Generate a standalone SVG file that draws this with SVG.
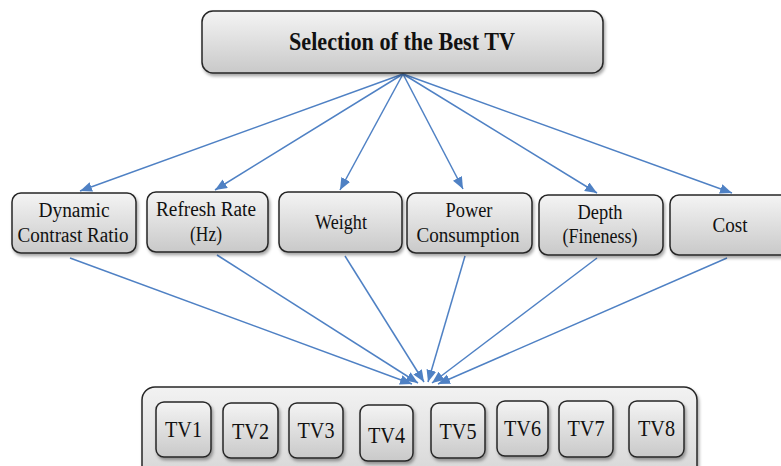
<svg xmlns="http://www.w3.org/2000/svg" width="781" height="466" viewBox="0 0 781 466">
<style>
.box{fill:url(#g);stroke:#262626;stroke-width:1.5;filter:url(#sh)}
.outer{fill:url(#g2);stroke:#262626;stroke-width:1.5;filter:url(#sh)}
.lbl text{fill:#111;text-anchor:middle}
.t{font-size:20px}
.tv{font-size:24px}
.title{font-size:26px;font-weight:bold}
.c{stroke:#4f81c4;stroke-width:1.5;fill:none;marker-end:url(#ah)}
</style>
<defs>
<linearGradient id="g" x1="0" y1="0" x2="0" y2="1">
<stop offset="0" stop-color="#f4f4f4"/>
<stop offset="1" stop-color="#c9c9c9"/>
</linearGradient>
<linearGradient id="g2" x1="0" y1="0" x2="0" y2="1">
<stop offset="0" stop-color="#f2f2f2"/>
<stop offset="1" stop-color="#d6d6d6"/>
</linearGradient>
<filter id="sh" x="-10%" y="-10%" width="130%" height="140%">
<feDropShadow dx="1.5" dy="2.5" stdDeviation="1.5" flood-color="#000" flood-opacity="0.35"/>
</filter>
<marker id="ah" markerUnits="userSpaceOnUse" markerWidth="13" markerHeight="11" refX="12" refY="5" orient="auto">
<path d="M0,0 L12,5 L0,10 z" fill="#4f81c4"/>
</marker>
</defs>
<g id="connectors">
<line class="c" x1="403" y1="74" x2="80" y2="191"/>
<line class="c" x1="403" y1="74" x2="215" y2="190"/>
<line class="c" x1="403" y1="74" x2="340" y2="190"/>
<line class="c" x1="403" y1="74" x2="463" y2="189"/>
<line class="c" x1="403" y1="74" x2="597" y2="193"/>
<line class="c" x1="403" y1="74" x2="732" y2="193"/>
<line class="c" x1="70" y1="258" x2="412" y2="384"/>
<line class="c" x1="217" y1="255" x2="418" y2="383"/>
<line class="c" x1="345" y1="256" x2="424" y2="382"/>
<line class="c" x1="465" y1="256" x2="428" y2="382"/>
<line class="c" x1="597" y1="258" x2="432" y2="383"/>
<line class="c" x1="727" y1="258" x2="438" y2="384"/>
</g>
<g class="lbl" font-family="Liberation Serif, Times New Roman, Times, Nimbus Roman, Noto Serif, DejaVu Serif, FreeSerif, serif">
<g id="goal">
<rect class="box" x="202" y="11" width="401" height="62" rx="11"/>
<text class="title" x="402" y="50" textLength="226" lengthAdjust="spacingAndGlyphs">Selection of the Best TV</text>
</g>
<g id="c1">
<rect class="box" x="12" y="193" width="124" height="60" rx="9"/>
<text class="t" x="74" y="217" textLength="71" lengthAdjust="spacingAndGlyphs">Dynamic</text>
<text class="t" x="73" y="242" textLength="111" lengthAdjust="spacingAndGlyphs">Contrast Ratio</text>
</g>
<g id="c2">
<rect class="box" x="147" y="192" width="121" height="60" rx="9"/>
<text class="t" x="206" y="216" textLength="100" lengthAdjust="spacingAndGlyphs">Refresh Rate</text>
<text class="t" x="206" y="241" textLength="32" lengthAdjust="spacingAndGlyphs">(Hz)</text>
</g>
<g id="c3">
<rect class="box" x="279" y="192" width="123" height="60" rx="9"/>
<text class="t" x="341" y="229" textLength="52" lengthAdjust="spacingAndGlyphs">Weight</text>
</g>
<g id="c4">
<rect class="box" x="407" y="193" width="125" height="60" rx="9"/>
<text class="t" x="469" y="217" textLength="47" lengthAdjust="spacingAndGlyphs">Power</text>
<text class="t" x="468" y="242" textLength="103" lengthAdjust="spacingAndGlyphs">Consumption</text>
</g>
<g id="c5">
<rect class="box" x="539" y="195" width="124" height="60" rx="9"/>
<text class="t" x="600" y="219" textLength="45" lengthAdjust="spacingAndGlyphs">Depth</text>
<text class="t" x="600" y="243" textLength="75" lengthAdjust="spacingAndGlyphs">(Fineness)</text>
</g>
<g id="c6">
<rect class="box" x="670" y="195" width="122" height="60" rx="9"/>
<text class="t" x="730" y="232" textLength="35" lengthAdjust="spacingAndGlyphs">Cost</text>
</g>
<g id="alternatives">
<rect class="outer" x="142" y="387" width="555" height="92" rx="13"/>
</g>
<g id="tv1"><rect class="box" x="156" y="402" width="55" height="55" rx="8"/><text class="tv" x="183.5" y="437" textLength="37" lengthAdjust="spacingAndGlyphs">TV1</text></g>
<g id="tv2"><rect class="box" x="223" y="403" width="55" height="55" rx="8"/><text class="tv" x="250.5" y="439" textLength="37" lengthAdjust="spacingAndGlyphs">TV2</text></g>
<g id="tv3"><rect class="box" x="289" y="403" width="54" height="55" rx="8"/><text class="tv" x="316" y="438" textLength="37" lengthAdjust="spacingAndGlyphs">TV3</text></g>
<g id="tv4"><rect class="box" x="360" y="405" width="53" height="56" rx="8"/><text class="tv" x="386.5" y="443" textLength="37" lengthAdjust="spacingAndGlyphs">TV4</text></g>
<g id="tv5"><rect class="box" x="431" y="403" width="54" height="55" rx="8"/><text class="tv" x="458" y="439" textLength="37" lengthAdjust="spacingAndGlyphs">TV5</text></g>
<g id="tv6"><rect class="box" x="497" y="401" width="51" height="55" rx="8"/><text class="tv" x="522.5" y="436" textLength="37" lengthAdjust="spacingAndGlyphs">TV6</text></g>
<g id="tv7"><rect class="box" x="559" y="401" width="54" height="56" rx="8"/><text class="tv" x="586" y="436" textLength="37" lengthAdjust="spacingAndGlyphs">TV7</text></g>
<g id="tv8"><rect class="box" x="629" y="401" width="55" height="56" rx="8"/><text class="tv" x="656.5" y="436" textLength="37" lengthAdjust="spacingAndGlyphs">TV8</text></g>
</g>
</svg>
